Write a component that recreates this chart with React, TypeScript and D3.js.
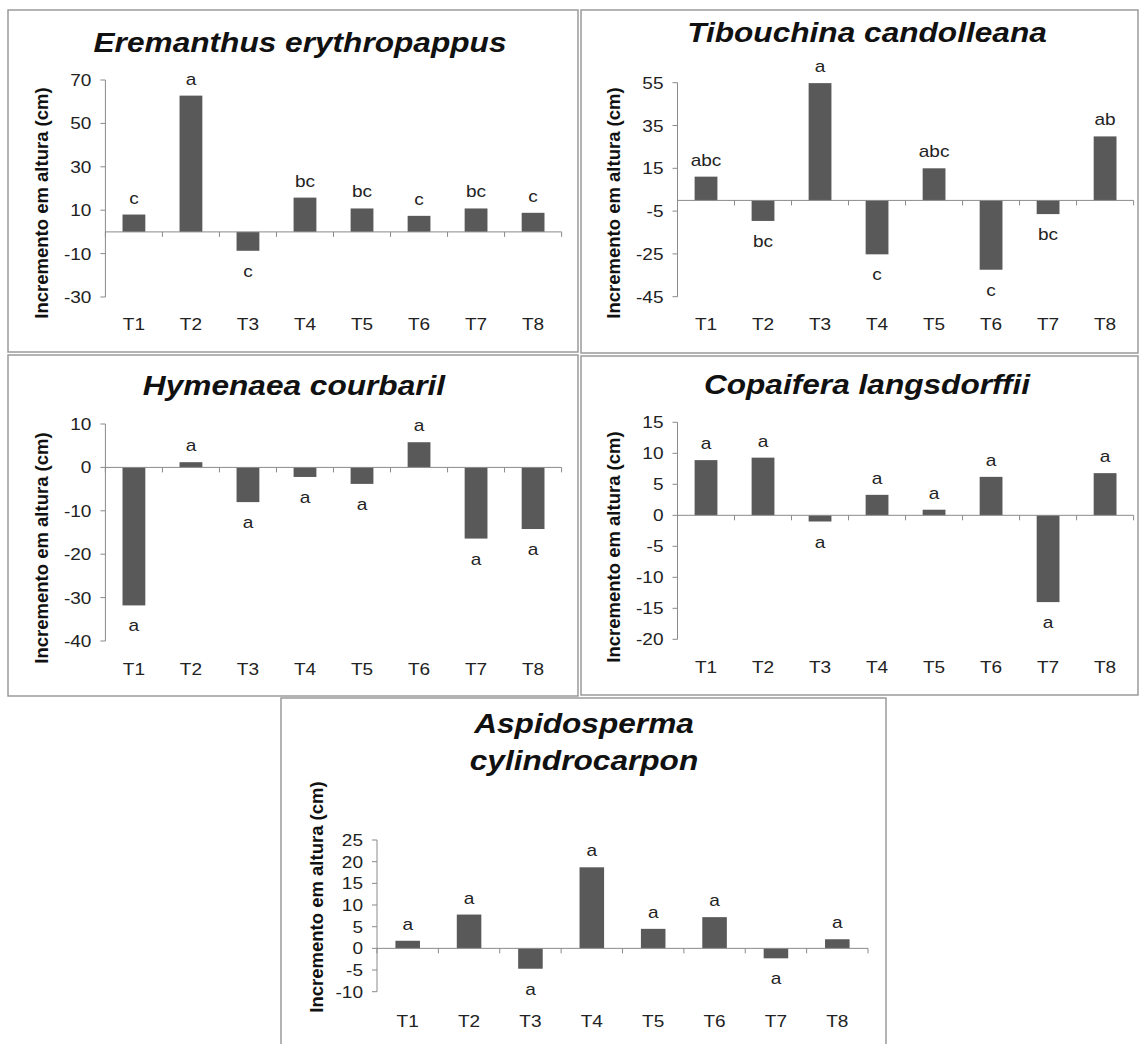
import * as d3 from 'd3'

const categories = ['T1', 'T2', 'T3', 'T4', 'T5', 'T6', 'T7', 'T8']

const eremanthusValues = [8.0, 62.8, -8.7, 15.8, 10.8, 7.4, 10.8, 8.8]
const eremanthusLetters = ['c', 'a', 'c', 'bc', 'bc', 'c', 'bc', 'c']
const eremanthusTicks = [70, 50, 30, 10, -10, -30]

const tibouchinaValues = [11.1, -9.6, 54.8, -25.2, 15.0, -32.4, -6.4, 29.9]
const tibouchinaLetters = ['abc', 'bc', 'a', 'c', 'abc', 'c', 'bc', 'ab']
const tibouchinaTicks = [55, 35, 15, -5, -25, -45]

const hymenaeaValues = [-31.8, 1.2, -8.0, -2.2, -3.8, 5.8, -16.4, -14.2]
const hymenaeaLetters = ['a', 'a', 'a', 'a', 'a', 'a', 'a', 'a']
const hymenaeaTicks = [10, 0, -10, -20, -30, -40]

const copaiferaValues = [8.9, 9.3, -1.0, 3.3, 0.9, 6.2, -14.0, 6.8]
const copaiferaLetters = ['a', 'a', 'a', 'a', 'a', 'a', 'a', 'a']
const copaiferaTicks = [15, 10, 5, 0, -5, -10, -15, -20]

const aspidospermaValues = [1.75, 7.8, -4.7, 18.7, 4.5, 7.2, -2.3, 2.1]
const aspidospermaLetters = ['a', 'a', 'a', 'a', 'a', 'a', 'a', 'a']
const aspidospermaTicks = [25, 20, 15, 10, 5, 0, -5, -10]

const yLabel = 'Incremento em altura (cm)'
const font = 'Arial, "Liberation Sans", sans-serif'
const stretch = 1.12

// text that is a little wider than the font, like the scanned figure
function Txt({ x, y, anchor = 'middle', size = 17, bold = false, italic = false, sx = stretch, children }: any) {
  return (
    <text
      transform={`translate(${x},${y}) scale(${sx},1)`}
      textAnchor={anchor}
      fontFamily={font}
      fontSize={size}
      fontWeight={bold ? 'bold' : 'normal'}
      fontStyle={italic ? 'italic' : 'normal'}
      fill={bold ? '#111' : '#222'}
    >
      {children}
    </text>
  )
}

type PanelProps = {
  title: string[]
  titleX: number
  titleY: number
  values: number[]
  letters: string[]
  ticks: number[]
  frame: [number, number, number, number]
  xRange: [number, number]
  yRange: [number, number]
  labelX: number
  labelY: number
  catY: number
}

function Panel({ title, titleX, titleY, values, letters, ticks, frame, xRange, yRange, labelX, labelY, catY }: PanelProps) {
  const x = d3.scaleBand().domain(categories).range(xRange).paddingInner(0).paddingOuter(0)
  const y = d3.scaleLinear().domain(d3.extent(ticks) as [number, number]).range(yRange)
  const bw = x.bandwidth() * 0.4
  const y0 = y(0)
  const bounds = categories.map((c) => x(c)!).concat([xRange[1]])

  return (
    <g>
      <rect x={frame[0]} y={frame[1]} width={frame[2] - frame[0]} height={frame[3] - frame[1]} fill="#fff" stroke="#9a9a9a" strokeWidth={1.5} />
      {title.map((t, i) => (
        <Txt key={t} x={titleX} y={titleY + i * 37} size={28} bold italic sx={1.13}>
          {t}
        </Txt>
      ))}
      <text transform={`translate(${labelX},${labelY}) rotate(-90)`} textAnchor="middle" dominantBaseline="central" fontFamily={font} fontWeight="bold" fontSize={18.5} fill="#111">
        {yLabel}
      </text>
      {/* y axis */}
      <line x1={xRange[0]} x2={xRange[0]} y1={y(ticks[0])} y2={y(ticks[ticks.length - 1])} stroke="#8a8a8a" strokeWidth={1} />
      {ticks.map((t) => (
        <g key={t}>
          <line x1={xRange[0] - 5} x2={xRange[0]} y1={y(t)} y2={y(t)} stroke="#8a8a8a" />
          <Txt x={xRange[0] - 14} y={y(t) + 6} anchor="end">
            {t}
          </Txt>
        </g>
      ))}
      {/* bars */}
      {values.map((v, i) => {
        const cx = x(categories[i])! + x.bandwidth() / 2
        return (
          <g key={categories[i]}>
            <rect x={cx - bw / 2} y={Math.min(y(v), y0)} width={bw} height={Math.abs(y(v) - y0)} fill="#595959" />
            <Txt x={cx} y={v >= 0 ? y(v) - 11 : y(v) + 26}>
              {letters[i]}
            </Txt>
            <Txt x={cx} y={catY}>
              {categories[i]}
            </Txt>
          </g>
        )
      })}
      {/* category axis at zero */}
      <line x1={xRange[0]} x2={xRange[1]} y1={y0} y2={y0} stroke="#8a8a8a" strokeWidth={1} />
      {bounds.map((b, i) => (
        <line key={i} x1={b} x2={b} y1={y0} y2={y0 + 5} stroke="#8a8a8a" />
      ))}
    </g>
  )
}

export default function App() {
  return (
    <svg width={1139} height={1044} style={{ position: 'absolute', left: 0, top: 0, background: '#fff' }}>
      <Panel title={['Eremanthus erythropappus']} titleX={300} titleY={52} values={eremanthusValues} letters={eremanthusLetters} ticks={eremanthusTicks}
        frame={[8, 10, 578, 352]} xRange={[105.4, 561.6]} yRange={[297, 80]} labelX={41} labelY={203} catY={330} />
      <Panel title={['Tibouchina candolleana']} titleX={867} titleY={42} values={tibouchinaValues} letters={tibouchinaLetters} ticks={tibouchinaTicks}
        frame={[581, 10, 1138, 353]} xRange={[677.5, 1133.6]} yRange={[296.7, 82.7]} labelX={613} labelY={203} catY={330} />
      <Panel title={['Hymenaea courbaril']} titleX={294} titleY={395} values={hymenaeaValues} letters={hymenaeaLetters} ticks={hymenaeaTicks}
        frame={[8, 355, 578, 696]} xRange={[105.4, 561.6]} yRange={[641, 424]} labelX={41} labelY={548} catY={675} />
      <Panel title={['Copaifera langsdorffii']} titleX={867} titleY={394} values={copaiferaValues} letters={copaiferaLetters} ticks={copaiferaTicks}
        frame={[581, 356, 1138, 695]} xRange={[677.5, 1133.6]} yRange={[639.3, 422.3]} labelX={613} labelY={547} catY={673} />
      <Panel title={['Aspidosperma', 'cylindrocarpon']} titleX={584} titleY={733} values={aspidospermaValues} letters={aspidospermaLetters} ticks={aspidospermaTicks}
        frame={[281, 698, 886, 1046]} xRange={[377, 868]} yRange={[991.7, 840]} labelX={316.5} labelY={897} catY={1027} />
    </svg>
  )
}
